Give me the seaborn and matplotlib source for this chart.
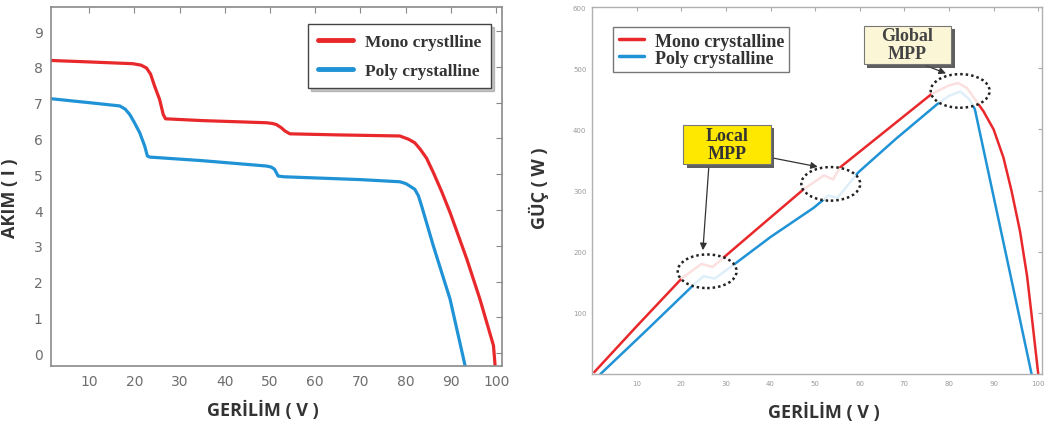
import numpy as np
import pandas as pd
import matplotlib
matplotlib.use("Agg")
import matplotlib.pyplot as plt
import seaborn as sns
from matplotlib.patches import Ellipse, Rectangle
import matplotlib.patheffects as pe

sns.set_style("white")
plt.rcParams['font.family'] = ['DejaVu Sans']

# ---------------- data ----------------
series_left = ["Mono crystlline", "Poly crystalline"]
series_right = ["Mono crystalline", "Poly crystalline"]

iv_mono_v = [1.7, 10, 19.7, 21.5, 22.7, 23.6, 24.5, 25.6, 26.4, 26.9, 35, 49.2, 50.5, 51.4, 52.5, 53.3, 54.4, 65,
             78.7, 80.6, 82.0, 83.2, 84.6, 86.1, 88.0, 89.8, 93.5, 96.4, 99.4, 99.75]
iv_mono_i = [8.18, 8.14, 8.09, 8.05, 7.97, 7.80, 7.46, 7.09, 6.67, 6.55, 6.50, 6.44, 6.42, 6.39, 6.30, 6.21, 6.13, 6.10,
             6.07, 5.98, 5.88, 5.70, 5.45, 5.05, 4.50, 3.93, 2.63, 1.51, 0.21, -0.34]

iv_poly_v = [1.7, 10.1, 16.8, 18.0, 19.0, 20.0, 21.2, 22.3, 22.9, 23.4, 35, 49.2, 50.3, 51.0, 51.5, 51.8, 53.0, 70,
             78.7, 80.0, 80.9, 82.0, 82.8, 83.5, 86.1, 89.8, 93.1]
iv_poly_i = [7.11, 7.00, 6.91, 6.82, 6.67, 6.45, 6.16, 5.79, 5.51, 5.48, 5.38, 5.23, 5.20, 5.14, 5.02, 4.95, 4.93, 4.85,
             4.79, 4.74, 4.67, 4.58, 4.40, 4.12, 3.00, 1.51, -0.34]

pv_mono_v = [0.5, 10, 20.2, 24.5, 27.0, 29.9, 40, 47.4, 52.0, 54.0, 55.6, 65, 76.1, 80, 82, 84, 87.7, 90, 92.2, 94, 95.9, 97.5, 98.5, 100]
pv_mono_p = [3, 78, 157, 180, 175, 193, 256, 302, 325, 318, 338, 393, 458, 472, 476, 468, 430, 400, 354, 300, 234, 160, 97, 0]

pv_poly_v = [1.9, 12, 22.8, 25.0, 27.5, 31.8, 40, 49.7, 53, 55, 59.7, 68, 77.3, 80, 82.5, 84.5, 85.8, 90, 95, 98.5]
pv_poly_p = [0, 70, 146, 160, 156, 179, 224, 272, 292, 288, 330, 384, 441, 455, 462, 450, 433, 290, 120, 0]

# MPP regions (centre V, centre P)
mpp_centres_v = [25.8, 53.5, 82.5]
mpp_centres_p = [168, 311, 463]

RED = "#e8282b"
BLUE = "#1f93d6"

df_iv = pd.concat([
    pd.DataFrame({"V": iv_mono_v, "I": iv_mono_i, "s": series_left[0]}),
    pd.DataFrame({"V": iv_poly_v, "I": iv_poly_i, "s": series_left[1]}),
])
df_pv = pd.concat([
    pd.DataFrame({"V": pv_mono_v, "P": pv_mono_p, "s": series_right[0]}),
    pd.DataFrame({"V": pv_poly_v, "P": pv_poly_p, "s": series_right[1]}),
])

fig = plt.figure(figsize=(10.46, 4.31), dpi=100)
ax1 = fig.add_axes([0.0488, 0.1485, 0.4312, 0.8325])
ax2 = fig.add_axes([0.566, 0.130, 0.430, 0.851])

tick_col = "#6e6e6e"
label_font = dict(family="Open Sans", weight="bold", size=13, color="#333333")

# ---------------- left: I-V ----------------
sns.lineplot(data=df_iv, x="V", y="I", hue="s", sort=False, estimator=None,
             palette={series_left[0]: RED, series_left[1]: BLUE},
             linewidth=2.3, ax=ax1)
ax1.set_xlim(1.6, 101.3)
ax1.set_ylim(-0.36, 9.67)
ax1.set_xticks(range(10, 101, 10))
ax1.set_yticks(range(0, 10))
ax1.tick_params(direction="in", length=4, top=True, right=True, colors="#888888",
                labelcolor=tick_col, labelsize=10, pad=6)
for sp in ax1.spines.values():
    sp.set_color("#8a8a8a")
    sp.set_linewidth(1.2)
ax1.set_xlabel("GERİLİM ( V )", **label_font)
ax1.set_ylabel("AKIM ( I )", **label_font)
ax1.xaxis.set_label_coords(0.47, -0.095)
ax1.yaxis.set_label_coords(-0.072, 0.47)
leg1 = ax1.legend(loc="upper right", bbox_to_anchor=(0.975, 0.953), borderaxespad=0,
                  frameon=True, fancybox=False, edgecolor="#444444", labelspacing=0.75,
                  handlelength=2.0, handletextpad=0.7, borderpad=0.55,
                  prop=dict(family="Liberation Serif", weight="bold", size=12.5),
                  shadow={"ox": 2, "oy": -2, "color": "0.55"})
for line in leg1.get_lines():
    line.set_linewidth(3.5)
for t in leg1.get_texts():
    t.set_color("#333333")

# ---------------- right: P-V ----------------
sns.lineplot(data=df_pv, x="V", y="P", hue="s", sort=False, estimator=None,
             palette={series_right[0]: RED, series_right[1]: BLUE},
             linewidth=1.8, ax=ax2)
ax2.set_xlim(0, 100.8)
ax2.set_ylim(0, 600)
ax2.set_xticks(range(10, 101, 10))
ax2.set_yticks(range(100, 601, 100))
ax2.tick_params(direction="in", length=3, top=True, right=True, colors="#aaaaaa",
                labelcolor="#9a9a9a", labelsize=5, pad=4)
for sp in ax2.spines.values():
    sp.set_color("#b0b0b0")
    sp.set_linewidth(1.0)
ax2.set_xlabel("GERİLİM ( V )", **label_font)
ax2.set_ylabel("GÜÇ ( W )", **label_font)
ax2.xaxis.set_label_coords(0.515, -0.075)
ax2.yaxis.set_label_coords(-0.095, 0.51)
leg2 = ax2.legend(loc="upper left", bbox_to_anchor=(0.047, 0.945), borderaxespad=0,
                  frameon=True, fancybox=False, edgecolor="#555555", labelspacing=0.0,
                  handlelength=1.4, handletextpad=0.6, borderpad=0.3,
                  prop=dict(family="Liberation Serif", weight="bold", size=13))
for line in leg2.get_lines():
    line.set_linewidth(2.5)
for t in leg2.get_texts():
    t.set_color("#333333")

# MPP ellipses
for cv, cp in zip(mpp_centres_v, mpp_centres_p):
    ax2.add_patch(Ellipse((cv, cp), width=13.2, height=55,
                          facecolor=(1, 1, 1, 0.86), edgecolor="#222222",
                          linestyle=(0, (1, 1.2)), linewidth=1.8, zorder=5))

# annotation boxes (drawn as rectangles with a drop shadow, text on top)
shadow = [pe.SimplePatchShadow(offset=(2.5, -2.5), shadow_rgbFace="0.3", alpha=0.9), pe.Normal()]
for (x0, y0, w, h, fc) in [(20.4, 343, 19.6, 65, "#ffe800"), (60.9, 507, 19.6, 63, "#fbf6d6")]:
    r = Rectangle((x0, y0), w, h, facecolor=fc, edgecolor="#777777", linewidth=0.8, zorder=7)
    r.set_path_effects(shadow)
    ax2.add_patch(r)
ax2.text(30.2, 375.5, "Local\nMPP", ha="center", va="center", fontsize=13,
         color="#333333", linespacing=1.1, zorder=8, family="Liberation Serif", weight="bold")
ax2.text(70.7, 538.5, "Global\nMPP", ha="center", va="center", fontsize=13,
         color="#444444", linespacing=1.1, zorder=8, family="Liberation Serif", weight="bold")

arrow_kw = dict(arrowstyle="-|>", color="#333333", lw=0.9, mutation_scale=10)
ax2.annotate("", xy=(24.8, 198), xytext=(26.2, 342), arrowprops=arrow_kw, zorder=6)
ax2.annotate("", xy=(51.2, 338), xytext=(40.0, 354), arrowprops=arrow_kw, zorder=6)
ax2.annotate("", xy=(79.9, 490), xytext=(74.3, 506), arrowprops=arrow_kw, zorder=6)

fig.savefig("out.png", dpi=100)
